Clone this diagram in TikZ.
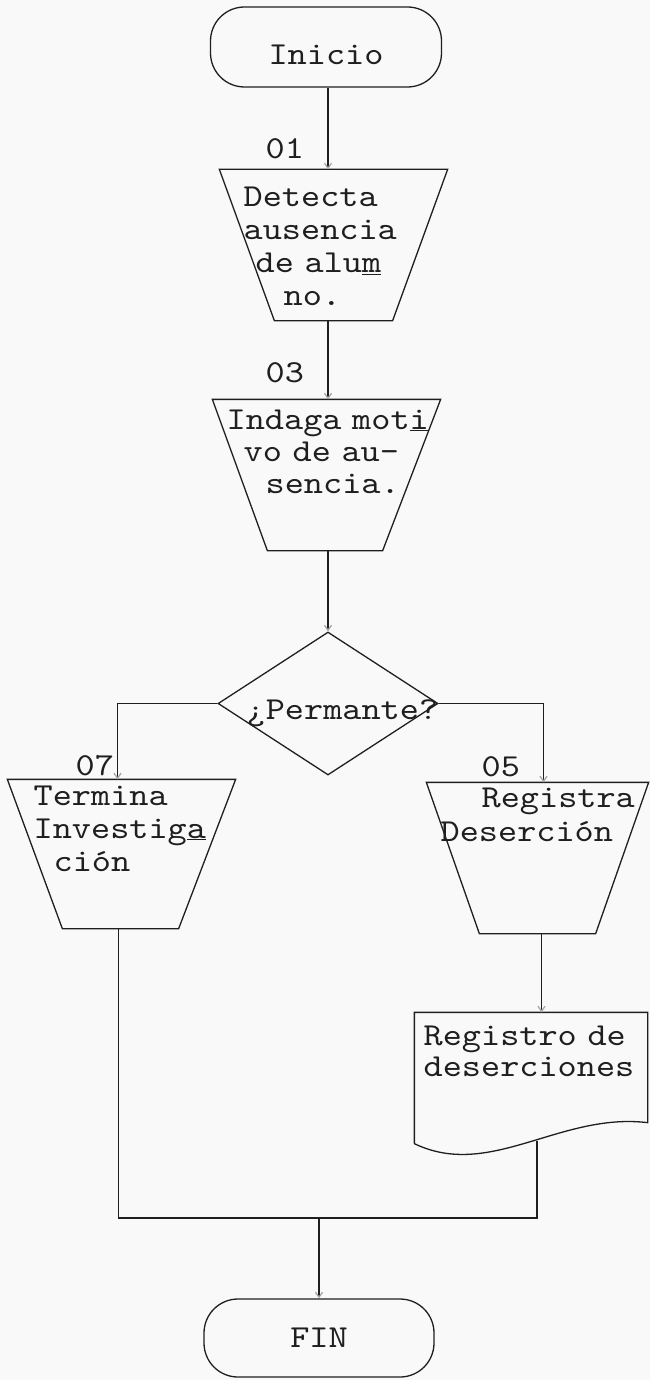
\documentclass[tikz,border=0pt]{standalone}
\usepackage{fontspec}
\newfontfamily\tw{lmmono10-regular.otf}[FakeStretch=1.14]
\usetikzlibrary{arrows.meta,calc,shapes.geometric}
\definecolor{paper}{gray}{0.975}
\definecolor{ink}{gray}{0.12}
\begin{document}
\begin{tikzpicture}[x=1pt,y=-1pt,
  line width=1.3pt, color=ink,
  ghost/.style={rectangle, inner sep=0pt},
  txt/.style={font=\tw\fontsize{32}{33}\selectfont, inner sep=0pt, anchor=base west, align=left, text width=260pt},
  lbl/.style={font=\tw\fontsize{32}{33}\selectfont, inner sep=0pt, anchor=base west},
  flow/.style={-{Straight Barb[length=5pt,width=7pt,color=black!35]}}
]
\useasboundingbox (0,0) rectangle (650,1380);
\fill[paper] (0,0) rectangle (650,1380);

% start
\node[draw, rectangle, rounded corners=34pt, minimum width=231pt, minimum height=80pt,
      inner sep=0pt, font=\tw\fontsize{32}{33}\selectfont, text height=36pt, text depth=0pt] (inicio) at (326,47) {Inicio};

% 01
\node[ghost, minimum width=227pt, minimum height=150pt] (t1) at (333.5,245) {};
\draw (t1.north west) -- (t1.north east) -- ($(t1.south east)+(-55,0)$) -- ($(t1.south west)+(55,0)$) -- cycle;
\node[lbl] (l01) at (265,159) {01};
\node[txt] (t1T) at (243,207) {Detecta\\ausencia\\\hspace*{12pt}de alu\underline{m}\\\hspace*{40pt}no.};

% 03
\node[ghost, minimum width=227pt, minimum height=150pt] (t2) at (326.5,475) {};
\draw (t2.north west) -- (t2.north east) -- ($(t2.south east)+(-58,0)$) -- ($(t2.south west)+(55,0)$) -- cycle;
\node[lbl] (l03) at (265,382) {03};
\node[txt, font=\tw\fontsize{32}{32}\selectfont] (t2T) at (226,429) {Indaga mot\underline{i}\\\hspace*{17pt}vo de au-\\\hspace*{39pt}sencia.};

% decision
\node[diamond, draw, minimum width=220pt, minimum height=143pt, inner sep=0pt] (dec) at (328,703.5) {};
\node[lbl] (decT) at (246,719) {¿Permante?};

% 07
\node[ghost, minimum width=227pt, minimum height=148pt] (t3) at (121.5,854) {};
\draw (t3.north west) -- (t3.north east) -- ($(t3.south east)+(-57,0)$) -- ($(t3.south west)+(55,0)$) -- cycle;
\node[lbl] (l07) at (75,775) {07};
\node[txt] (t3T) at (33,805) {Termina\\Investig\underline{a}\\\hspace*{20pt}ción};

% 05
\node[ghost, minimum width=221pt, minimum height=150pt] (t4) at (537.5,858) {};
\draw (t4.north west) -- (t4.north east) -- ($(t4.south east)+(-53,0)$) -- ($(t4.south west)+(53,0)$) -- cycle;
\node[lbl] (l05) at (481,776) {05};
\node[txt, font=\tw\fontsize{32}{34}\selectfont] (t4T) at (440,807) {\hspace*{41pt}Registra\\Deserción};

% document
\node[ghost, minimum width=232pt, minimum height=130pt] (doc) at (531,1078) {};
\draw (doc.south west) -- (doc.north west) -- (doc.north east) -- ($(doc.south east)+(0,-21)$)
      .. controls (560,1112) and (490,1180) .. (doc.south west);
\node[txt, font=\tw\fontsize{32}{31}\selectfont] (docT) at (423,1045) {Registro de\\deserciones};

% end
\node[draw, rectangle, rounded corners=34pt, minimum width=230pt, minimum height=78pt,
      inner sep=0pt, font=\tw\fontsize{32}{33}\selectfont] (fin) at (319,1338) {FIN};

% connectors
\coordinate (docin) at ($(doc.north)+(10.5,0)$);
\coordinate (docb) at (537,1141);
\coordinate (jr) at (537,1218);
\draw[flow] (inicio.south -| dec.north) -- (dec.north |- t1.north);
\draw[flow] (dec.north |- t1.south) -- (dec.north |- t2.north);
\draw[flow] (dec.north |- t2.south) -- (dec.north);
\draw[flow] (dec.west) -| ($(t3.north)+(-4,0)$);
\draw[flow] (dec.east) -| ($(t4.north)+(6,0)$);
\draw[flow] ($(t4.south)+(4,0)$) -- (docin);
\draw ($(t3.south)+(-3,0)$) |- (jr) -- (docb);
\draw[flow] (fin.north |- jr) -- (fin.north);
\end{tikzpicture}
\end{document}
